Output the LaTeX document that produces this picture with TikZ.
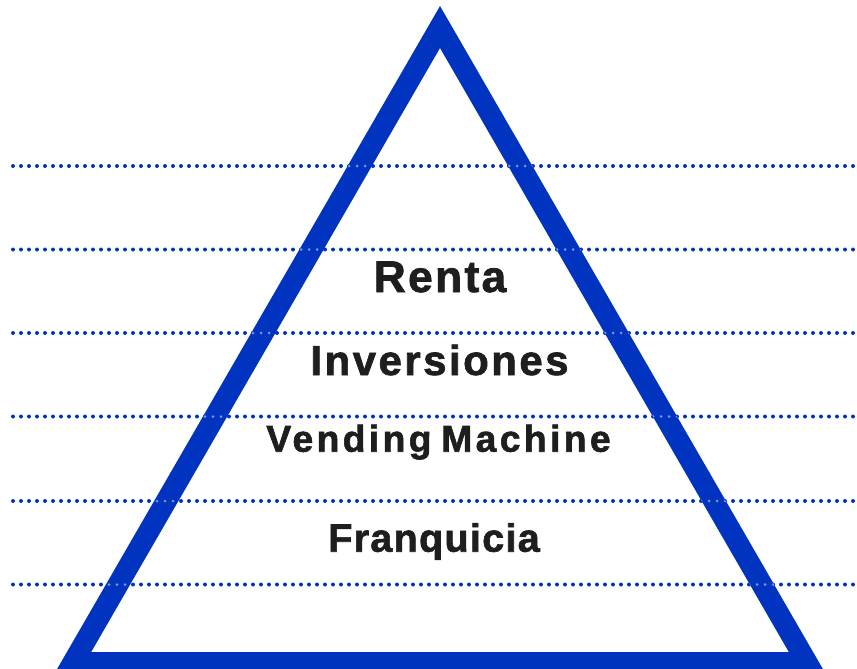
\documentclass[tikz,border=0pt]{standalone}
\usepackage{fontspec}
\setmainfont{Liberation Sans}
\definecolor{triblue}{RGB}{0,51,191}
\definecolor{dotlight}{RGB}{120,148,218}
\definecolor{txtgray}{RGB}{30,30,30}
\tikzset{
  dotline/.style={draw=triblue, line width=4pt, line cap=round, dash pattern=on 0pt off 8pt},
  dotband/.style={draw=dotlight, line width=3pt, line cap=round, dash pattern=on 0pt off 8pt},
  pyrline/.style={draw=triblue, line width=21pt, line join=miter, miter limit=10},
  label/.style={text=txtgray, inner sep=0pt, anchor=base}
}
\begin{document}
\begin{tikzpicture}[x=1pt,y=-1pt]
\useasboundingbox (0,0) rectangle (857,669);
\clip (0,0) rectangle (857,669);
% line ends
\foreach \i/\yy in {1/166,2/249.5,3/333,4/416.5,5/501,6/584.5}{
  \coordinate (l\i s) at (13,\yy);
  \coordinate (l\i e) at (861,\yy);
}
% triangle
\coordinate (top) at (440,27);
\coordinate (bl) at (73,662.5);
\coordinate (br) at (807,662.5);
\draw[pyrline] (top) -- (bl) -- (br) -- cycle;
% dotted lines
\foreach \i in {1,...,6}{ \draw[dotline] (l\i s) -- (l\i e); }
% lighter dots over the blue band
\begin{scope}[even odd rule]
  \clip (440,6) -- (55,673) -- (825,673) -- cycle
        (440,48) -- (91,652) -- (789,652) -- cycle;
  \foreach \i in {1,...,6}{ \draw[dotband] (l\i s) -- (l\i e); }
\end{scope}
% texts
\node[label, font={\fontsize{44.3}{48}\bfseries\addfontfeatures{LetterSpace=5.3,FakeBold=1.6}}] (renta) at (440,292) {Renta};
\node[label, font={\fontsize{41.9}{46}\bfseries\addfontfeatures{LetterSpace=6,FakeBold=1.6}}] (inv) at (439.5,375) {Inversiones};
\node[label, font={\fontsize{37.3}{41}\bfseries\addfontfeatures{LetterSpace=9,FakeBold=1.6}}] (vend) at (438.5,451.7) {Vending\hspace{-4pt} Machine};
\node[label, font={\fontsize{39.5}{43}\bfseries\addfontfeatures{LetterSpace=3.3,FakeBold=1.6}}] (fran) at (434,551.7) {Franquicia};
\end{tikzpicture}
\end{document}
